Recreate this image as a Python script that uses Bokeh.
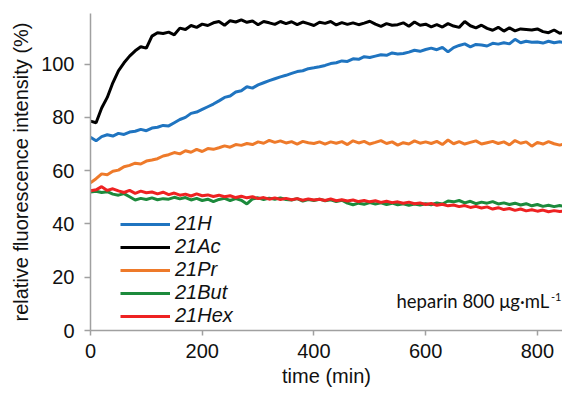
from bokeh.plotting import figure
from bokeh.models import FixedTicker, Legend, LegendItem, Label, Range1d
from bokeh.embed import file_html
from bokeh.resources import INLINE

time_min = list(range(0, 851, 10))

h21H = [72.5, 71.2, 72.8, 73.5, 73.0, 74.0, 73.6, 74.5, 74.8, 75.5,
        75.0, 76.0, 76.3, 77.0, 76.8, 78.0, 79.2, 80.0, 81.5, 82.0,
        83.0, 84.0, 85.0, 86.2, 87.5, 88.0, 89.5, 90.0, 91.5, 91.0,
        92.2, 93.0, 93.8, 94.5, 95.2, 95.8, 96.5, 97.2, 97.5, 98.3,
        98.6, 99.0, 99.5, 100.2, 100.5, 101.2, 101.0, 102.0, 101.8, 102.8,
        102.5, 103.0, 103.5, 103.3, 104.2, 103.8, 104.0, 104.5, 105.2, 104.8,
        105.5, 106.0, 105.4, 106.3, 104.6, 106.2, 107.0, 107.6, 106.5, 107.4,
        107.2, 106.8, 107.8, 107.5, 108.0, 107.6, 109.3, 108.0, 108.6, 108.2,
        108.3, 107.9, 108.6, 108.0, 108.4, 108.0]

h21Ac = [78.6, 78.0, 83.5, 87.5, 93.0, 97.5, 100.5, 103.0, 105.0, 106.5,
         106.0, 110.5, 111.8, 111.5, 112.0, 111.0, 113.5, 113.0, 114.5, 113.8,
         115.0, 114.5, 115.5, 116.0, 114.6, 116.3, 115.8, 116.6, 115.7, 116.2,
         114.8, 116.0, 115.5, 114.9, 116.0, 115.2, 115.9, 114.8, 115.8, 115.2,
         114.5, 115.7, 115.3, 116.0, 114.7, 115.6, 114.9, 115.5, 114.8, 115.4,
         116.1, 115.0, 114.2, 115.2, 114.6, 114.8, 115.5, 114.2, 115.8, 114.6,
         115.0, 114.0, 114.8, 113.9, 115.2, 114.3, 113.8, 116.0, 114.4, 113.6,
         114.6, 113.4, 112.7, 113.8, 112.4, 113.6, 112.5, 113.2, 113.0, 112.8,
         113.2, 112.2, 111.8, 112.8, 111.6, 112.0]

h21Pr = [55.5, 57.0, 58.8, 58.5, 59.8, 60.2, 61.5, 62.0, 62.8, 62.5,
         63.6, 64.0, 64.5, 65.5, 66.0, 66.8, 66.3, 67.5, 66.9, 68.0,
         67.2, 68.3, 68.0, 68.6, 69.3, 68.8, 69.8, 69.5, 70.2, 69.8,
         70.8, 70.3, 71.4, 70.6, 71.2, 70.4, 70.9, 70.0, 71.0, 70.5,
         70.2, 70.8, 70.0, 70.8, 70.3, 70.9, 69.8, 71.2, 70.4, 71.0,
         70.0, 70.6, 71.3, 70.2, 70.8, 69.6, 70.5, 70.0, 71.2, 70.3,
         70.8, 70.2, 71.0, 69.8, 71.5, 70.1, 70.9, 70.0, 70.6, 71.2,
         70.0, 70.5, 71.0, 70.2, 70.8, 69.7, 71.3, 70.3, 70.8, 69.2,
         70.6, 70.0, 70.9, 70.1, 69.6, 70.2]

h21But = [52.0, 52.3, 51.8, 52.1, 51.2, 50.8, 51.4, 50.2, 49.0, 49.6,
          49.2, 49.8, 49.1, 49.5, 49.3, 50.0, 49.4, 49.9, 49.0, 49.6,
          48.8, 49.3, 48.4, 49.2, 49.6, 48.8, 49.5, 48.9, 47.5, 49.4,
          49.8, 49.2, 49.7, 49.3, 49.8, 49.2, 49.0, 49.5, 48.6, 49.2,
          48.8, 49.3, 48.7, 49.1, 48.4, 48.9, 47.8, 47.2, 47.8, 47.4,
          48.0, 47.5, 47.9, 47.3, 47.8, 47.2, 47.6, 47.0, 47.5, 47.1,
          47.6, 47.2, 47.9, 47.5, 48.6, 48.3, 48.8, 47.9, 48.5, 47.6,
          48.2, 47.8, 48.4, 47.5, 47.9, 47.3, 47.8, 47.1, 47.6, 46.8,
          47.3, 46.6, 47.0, 46.5, 46.9, 46.6]

h21Hex = [52.5, 52.8, 54.0, 52.6, 53.2, 52.4, 51.8, 52.6, 51.5, 52.3,
          51.7, 52.0, 51.3, 51.9, 51.0, 51.6, 50.8, 51.2, 50.5, 51.3,
          50.6, 50.9, 50.3, 50.8, 50.2, 50.6, 49.9, 50.4, 49.8, 50.2,
          49.5, 49.9, 49.3, 49.8, 49.2, 49.6, 49.1, 49.5, 48.9, 49.4,
          49.0, 49.3, 48.8, 49.4, 48.7, 49.1, 48.6, 49.0, 48.4, 48.8,
          48.3, 48.7, 48.1, 48.5, 48.0, 48.3, 47.8, 48.2, 47.6, 47.9,
          47.3, 47.7, 47.0, 47.4, 46.8, 47.1, 46.5, 46.9, 46.2, 46.6,
          46.0, 46.4, 45.6, 46.1, 45.4, 45.8, 45.1, 45.6, 44.9, 45.3,
          44.8, 45.2, 44.6, 45.0, 44.7, 44.9]

series_names = ["21H", "21Ac", "21Pr", "21But", "21Hex"]
series_values = [h21H, h21Ac, h21Pr, h21But, h21Hex]
series_colors = ["#1F74C0", "#000000", "#EE7A2A", "#1C8A3C", "#EE2222"]
draw_order = [3, 4, 2, 0, 1]

x_ticks = [0, 200, 400, 600, 800]
y_ticks = [0, 20, 40, 60, 80, 100]

p = figure(width=562, height=390, output_backend="svg", toolbar_location=None,
           x_range=Range1d(0, 845), y_range=Range1d(0, 119),
           min_border_left=90, min_border_right=0, min_border_top=13,
           min_border_bottom=60)
p.outline_line_color = None
p.grid.visible = False
p.background_fill_color = "white"

renderers = {}
for i in draw_order:
    r = p.line(time_min, series_values[i], line_color=series_colors[i],
               line_width=3)
    renderers[i] = r

items = [LegendItem(label=series_names[i], renderers=[renderers[i]]) for i in range(5)]
legend = Legend(items=items, location=(30, 3), padding=0, margin=0, spacing=0,
                glyph_width=50, glyph_height=22, label_height=22,
                label_standoff=5, label_text_font="Liberation Sans",
                label_text_font_style="italic", label_text_font_size="20px",
                label_text_color="#111111",
                background_fill_alpha=0, border_line_color=None)
p.add_layout(legend, "center")

for ax in (p.xaxis[0], p.yaxis[0]):
    ax.axis_line_color = "#A0A0A0"
    ax.axis_line_width = 1.5
    ax.major_tick_line_color = "#A0A0A0"
    ax.major_tick_line_width = 1.5
    ax.minor_tick_line_color = None
    ax.major_tick_in = 0
    ax.major_label_text_font = "Liberation Sans"
    ax.major_label_text_font_size = "20px"
    ax.major_label_text_color = "#111111"
    ax.axis_label_text_font = "Liberation Sans"
    ax.axis_label_text_font_size = "20px"
    ax.axis_label_text_font_style = "normal"
    ax.axis_label_text_color = "#111111"

p.xaxis.ticker = FixedTicker(ticks=x_ticks)
p.yaxis.ticker = FixedTicker(ticks=y_ticks)
p.xaxis.major_tick_out = 5
p.yaxis.major_tick_out = 6
p.xaxis.major_label_standoff = 8
p.yaxis.major_label_standoff = 10
p.xaxis.axis_label = "time (min)"
p.yaxis.axis_label = "relative fluorescence intensity (%)"
p.xaxis.axis_label_standoff = 4
p.yaxis.axis_label_standoff = 6

lab = Label(x=306, y=30, x_units="screen", y_units="screen",
            text="heparin 800 μg·mL", text_font="Lato",
            text_font_size="18.5px", text_color="#111111",
            text_baseline="alphabetic")
sup = Label(x=471, y=34, x_units="screen", y_units="screen",
            text="-1", text_font="Lato", text_align="right",
            text_font_size="11px", text_color="#111111",
            text_baseline="alphabetic")
p.add_layout(lab)
p.add_layout(sup)

open("out.html", "w").write(file_html(p, INLINE))
